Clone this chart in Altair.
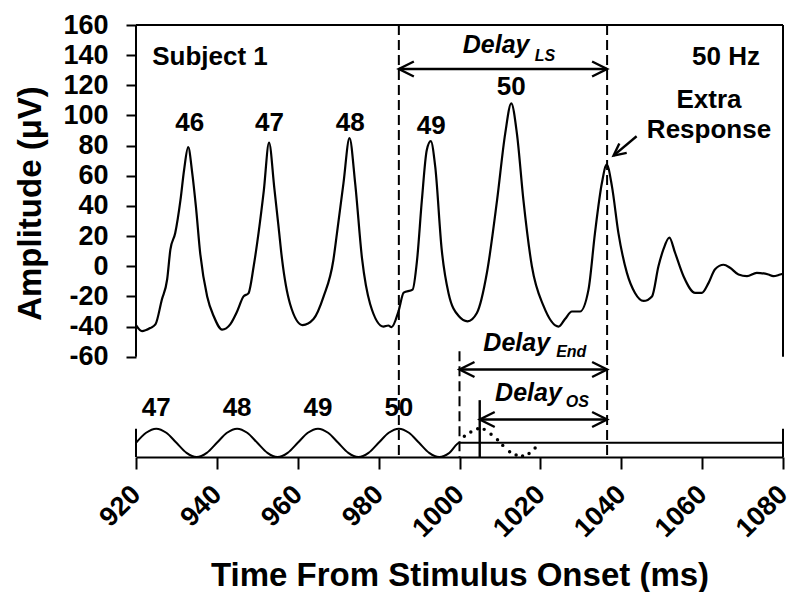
import altair as alt
import pandas as pd

# ---------------- data ----------------
# recorded response (time in ms, amplitude in microvolts)
resp_t = [920, 921.5, 923.5, 924.8, 926.4, 927.7, 928.5, 929.7, 931, 931.9, 932.9, 933.9, 934.8,
          935.9, 937.6, 939.2, 941.3, 943.3, 945, 946.6, 947.8, 949.1, 950.3, 951.6, 952.9, 954.2,
          955.3, 956.1, 958.1, 961.2, 963.9, 966.4, 968.8, 969.7, 971.3, 972.8, 974.2, 975.9,
          977.9, 981.2, 982.4, 983.2, 984.9, 986.2, 988.4, 989.5, 990.7, 991.9, 992.9, 994,
          995.6, 997.3, 999.8, 1002, 1004.3, 1006.8, 1009.3, 1011.3, 1012.8, 1014.2, 1015.8,
          1017.9, 1020.8, 1024.5, 1026.1, 1027.8, 1029.8, 1031.9, 1033.5, 1035.2, 1036.4,
          1037.7, 1039.3, 1041.4, 1043.4, 1045.5, 1047.6, 1049.2, 1050.4, 1051.9, 1053.3,
          1055.4, 1058.3, 1059.9, 1061.6, 1063.2, 1065.3, 1066.9, 1069, 1071.1, 1073.5,
          1076.4, 1077.6, 1079.3, 1080]
resp_amp = [-39, -43, -41, -38.6, -22, -8.8, 11, 22, 44, 64, 79, 62, 40,
            8, -20, -33, -42, -38.5, -30, -20, -18, 0, 22, 50, 82, 52,
            25, 5, -25, -39, -35, -20, 4, 22, 55, 85, 55, 5,
            -25, -40, -39.3, -40.4, -30, -17.5, -15.5, 4, 44, 77, 83, 66,
            11, -18, -33, -36.5, -31, -4, 44, 88, 108, 88, 44,
            0, -26.5, -40, -35, -30, -30, -15.5, 22, 55, 67.5,
            53, 22, -4.4, -17.7, -23, -20, 0, 11, 19, 9,
            -6.6, -17.7, -17.7, -11, -2, 1, -1, -5.5, -6.6, -4.4,
            -5.5, -6.6, -5.5, -5]

# 50 Hz stimulus (normalised level), sampled every 2.5 ms, then off after 1000 ms
stim_t = [920, 922.5, 925, 927.5, 930, 932.5, 935, 937.5,
          940, 942.5, 945, 947.5, 950, 952.5, 955, 957.5,
          960, 962.5, 965, 967.5, 970, 972.5, 975, 977.5,
          980, 982.5, 985, 987.5, 990, 992.5, 995, 997.5,
          1000, 1080]
stim_level = [0, 0.71, 1, 0.71, 0, -0.71, -1, -0.71,
              0, 0.71, 1, 0.71, 0, -0.71, -1, -0.71,
              0, 0.71, 1, 0.71, 0, -0.71, -1, -0.71,
              0, 0.71, 1, 0.71, 0, -0.71, -1, -0.71,
              0, 0]

# dotted continuation of the stimulus
dots_t = [1001.2, 1002.8, 1004.5, 1006.1, 1007.8, 1009.4, 1010.7, 1012.4, 1014, 1015.6, 1017.2, 1018.7]
dots_level = [0.46, 0.77, 1.0, 0.95, 0.61, 0.22, -0.18, -0.63, -0.86, -0.93, -0.75, -0.36]

# cycle labels on the response
peak_labels = ["46", "47", "48", "49", "50"]
peak_label_t = [933.3, 953, 973, 993, 1012.8]
peak_label_amp = [89.5, 89.5, 89.5, 88, 113.8]

# cycle labels on the stimulus
stim_labels = ["47", "48", "49", "50"]
stim_label_t = [925, 945, 965, 985]

# key times (ms)
T_LAST_STIM_PEAK = 985
T_OFFSET = 1000
T_ONSET_MARK = 1005
T_EXTRA = 1036.5

# ---------------- layout constants ----------------
Y_BOTTOM = -126.5
Y_TOP = 160
STIM_MID = -117.1
STIM_AMP = 9.4
STIM_TOP = STIM_MID + STIM_AMP
FONT = "Liberation Sans"

xscale = alt.Scale(domain=[920, 1080], nice=False, zero=False)
yscale = alt.Scale(domain=[Y_BOTTOM, Y_TOP], nice=False, zero=False)

X = alt.X("t:Q", scale=xscale, axis=alt.Axis(
    values=list(range(920, 1081, 20)), labelAngle=-45, labelAlign="right",
    labelBaseline="middle", tickSize=12, labelPadding=21, grid=False,
    labelExpr="'' + datum.value",
    title="Time From Stimulus Onset (ms)", titleY=128, titleBaseline="alphabetic",
    titleFontSize=33))
Y = alt.Y("a:Q", scale=yscale, axis=alt.Axis(
    values=list(range(-60, 161, 20)), domain=False, tickSize=10, labelPadding=18,
    grid=False, labelExpr="'' + datum.value",
    title="Amplitude (\u03bcV)", titleX=-106, titleY=178, titleAngle=270,
    titleAlign="center", titleBaseline="middle", titleFontSize=33))
X2 = alt.X2("t2:Q")
Y2 = alt.Y2("a2:Q")

resp_df = pd.DataFrame({"t": resp_t, "a": resp_amp})
stim_df = pd.DataFrame({"t": stim_t, "lvl": stim_level})
dots_df = pd.DataFrame({"t": dots_t, "lvl": dots_level})

resp = alt.Chart(resp_df).mark_line(color="black", strokeWidth=2.2, interpolate="monotone").encode(x=X, y=Y)

stim = alt.Chart(stim_df).transform_calculate(
    a=f"{STIM_MID} + {STIM_AMP} * datum.lvl"
).mark_line(color="black", strokeWidth=2, interpolate="monotone").encode(x=X, y=Y)

dots = alt.Chart(dots_df).transform_calculate(
    a=f"{STIM_MID} + {STIM_AMP} * datum.lvl"
).mark_circle(color="black", size=12, opacity=1).encode(x=X, y=Y)

frame_df = pd.DataFrame({
    "t": [920, 920, 1080, 920, 1080],
    "t2": [920, 1080, 1080, 920, 1080],
    "a": [-60, Y_TOP, -60, Y_BOTTOM, Y_BOTTOM],
    "a2": [Y_TOP, Y_TOP, Y_TOP, STIM_TOP, STIM_TOP],
})
frame = alt.Chart(frame_df).mark_rule(color="black", strokeWidth=2).encode(x=X, x2=X2, y=Y, y2=Y2)

dash_df = pd.DataFrame({
    "t": [T_LAST_STIM_PEAK, T_EXTRA, T_OFFSET],
    "t2": [T_LAST_STIM_PEAK, T_EXTRA, T_OFFSET],
    "a": [Y_TOP, Y_TOP, -56.3],
    "a2": [Y_BOTTOM, Y_BOTTOM, Y_BOTTOM],
})
dashed = alt.Chart(dash_df).mark_rule(color="black", strokeWidth=2, strokeDash=[10, 5]).encode(
    x=X, x2=X2, y=Y, y2=Y2)

arrow_df = pd.DataFrame({
    "t": [T_LAST_STIM_PEAK, T_OFFSET, T_ONSET_MARK, T_ONSET_MARK, 1043.8],
    "t2": [T_EXTRA, T_EXTRA, T_EXTRA, T_ONSET_MARK, 1038.1],
    "a": [130.8, -68.5, -101.6, Y_BOTTOM, 86.2],
    "a2": [130.8, -68.5, -101.6, -88.8, 73.4],
})
arrows = alt.Chart(arrow_df).mark_rule(color="black", strokeWidth=2.4).encode(x=X, x2=X2, y=Y, y2=Y2)

left_heads = alt.Chart(pd.DataFrame({
    "t": [T_LAST_STIM_PEAK, T_OFFSET, T_ONSET_MARK], "a": [130.8, -68.5, -101.6]
})).mark_point(shape="M1,-0.5L0,0L1,0.5", size=900, filled=False, color="black",
               strokeWidth=2.4, opacity=1).encode(x=X, y=Y)
right_heads = alt.Chart(pd.DataFrame({
    "t": [T_EXTRA, T_EXTRA, T_EXTRA], "a": [130.8, -68.5, -101.6]
})).mark_point(shape="M-1,-0.5L0,0L-1,0.5", size=900, filled=False, color="black",
               strokeWidth=2.4, opacity=1).encode(x=X, y=Y)
extra_head = alt.Chart(pd.DataFrame({"t": [1038.1], "a": [73.4]})).mark_point(
    shape="M1,-0.5L0,0L1,0.5", size=576, filled=False, color="black", strokeWidth=2.4,
    opacity=1, angle=322).encode(x=X, y=Y)

txt = dict(font=FONT, fontWeight="bold", color="black", baseline="alphabetic")

peak_txt = alt.Chart(pd.DataFrame({"t": peak_label_t, "a": peak_label_amp, "s": peak_labels})).mark_text(
    fontSize=26, align="center", **txt).encode(x=X, y=Y, text="s:N")
stim_txt = alt.Chart(pd.DataFrame({"t": stim_label_t, "a": [-99.4] * 4, "s": stim_labels})).mark_text(
    fontSize=26, align="center", **txt).encode(x=X, y=Y, text="s:N")

left_notes = alt.Chart(pd.DataFrame({"t": [924], "a": [133.7], "s": ["Subject 1"]})).mark_text(
    fontSize=26, align="left", **txt).encode(x=X, y=Y, text="s:N")
right_notes = alt.Chart(pd.DataFrame({"t": [1074.3], "a": [133.7], "s": ["50 Hz"]})).mark_text(
    fontSize=26, align="right", **txt).encode(x=X, y=Y, text="s:N")
extra_notes = alt.Chart(pd.DataFrame({"t": [1061.7, 1061.7], "a": [105, 85], "s": ["Extra", "Response"]})).mark_text(
    fontSize=26, align="center", **txt).encode(x=X, y=Y, text="s:N")

delay_txt = alt.Chart(pd.DataFrame({
    "t": [1000.8, 1005.9, 1008.8], "a": [141.4, -56.3, -89.5], "s": ["Delay"] * 3
})).mark_text(fontSize=25, align="left", fontStyle="italic", **txt).encode(x=X, y=Y, text="s:N")
sub_txt = alt.Chart(pd.DataFrame({
    "t": [1018.6, 1023.9, 1026.3], "a": [135.9, -60, -93.6], "s": ["LS", "End", "OS"]
})).mark_text(fontSize=16, align="left", fontStyle="italic", **txt).encode(x=X, y=Y, text="s:N")

chart = alt.layer(
    frame, dashed, stim, dots, resp, arrows, left_heads, right_heads, extra_head,
    peak_txt, stim_txt, left_notes, right_notes, extra_notes, delay_txt, sub_txt
).properties(
    width=647, height=432,
    autosize=alt.AutoSizeParams(type="none"),
    padding={"left": 128, "top": 17, "right": 9, "bottom": 135},
    background="white",
).configure_view(stroke=None).configure_axis(
    labelFont=FONT, labelFontWeight="bold", labelFontSize=27, labelColor="black",
    titleFont=FONT, titleFontWeight="bold", titleColor="black",
    tickColor="black", tickWidth=2, domainColor="black", domainWidth=2,
)

chart.save("out.html", embed_options={"renderer": "svg", "actions": False})
